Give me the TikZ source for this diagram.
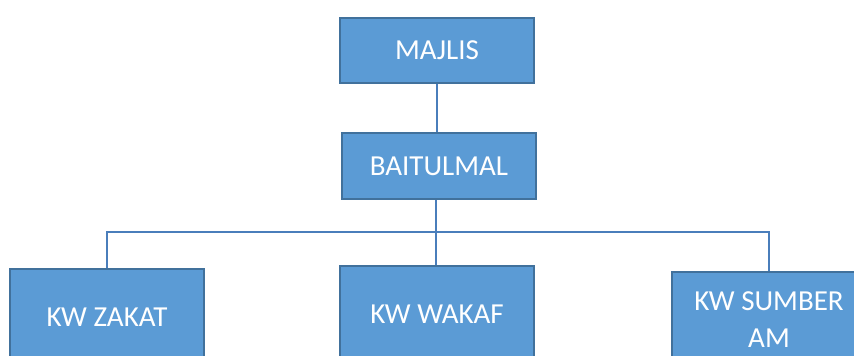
\documentclass[tikz,border=0pt]{standalone}
\usepackage{fontspec}
\setmainfont{Carlito}
\usetikzlibrary{positioning}

\definecolor{boxfill}{HTML}{5B9BD5}
\definecolor{boxline}{HTML}{41719C}
\definecolor{linkline}{HTML}{4A7EBB}

\tikzset{
  unit/.style={draw=boxline, fill=boxfill, line width=2pt, text=white,
    minimum width=194pt, inner sep=0pt, align=center,
    font=\fontsize{29}{37}\selectfont},
  link/.style={draw=linkline, line width=2pt}
}

\begin{document}
\begin{tikzpicture}[x=1pt, y=-1pt]
      \clip (0,0) rectangle (854,356);
      \fill[white] (0,0) rectangle (854,356);

      % Nodes
      \node[unit, minimum height=65pt] (majlis) at (437, 50.5) {MAJLIS};
      \node[unit, minimum height=66pt] (baitulmal) at (439, 166) {BAITULMAL};
      \node[unit, minimum height=96pt] (zakat) at (107, 317) {KW ZAKAT};
      \node[unit, minimum height=96pt] (wakaf) at (437, 314) {KW WAKAF};
      \node[unit, minimum height=96pt] (sumber) at (769, 320) {KW SUMBER\\AM};
      \coordinate (bus) at (436, 232);

      % Edges
      \path[link] (majlis.south) edge (majlis.south |- baitulmal.north)
                  (bus |- baitulmal.south) edge (bus)
                  (bus) edge (bus |- wakaf.north);
      \draw[link] (zakat.north) |- (bus) -| (sumber.north);

    \end{tikzpicture}
\end{document}
